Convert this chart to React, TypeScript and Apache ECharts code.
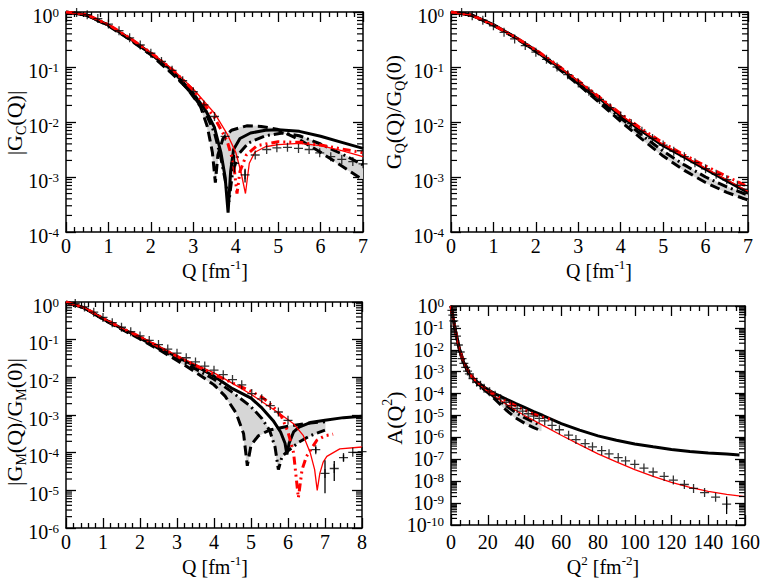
import React, { useEffect, useRef } from "react";
import * as echarts from "echarts";

const FONT = "Liberation Serif, Times New Roman, serif";

// ---- Panel 1: |G_C(Q)|  (values are log10 exponents) ----
const gcSolid = [[0,0],[0.5,-0.06],[1,-0.24],[1.5,-0.48],[2,-0.755],[2.5,-1.06],[3,-1.48],[3.3,-1.8],[3.5,-2.1],[3.65,-2.55],[3.75,-3.0],[3.82,-3.65],[3.88,-2.9],[3.95,-2.5],[4.1,-2.3],[4.35,-2.2],[4.7,-2.15],[5,-2.14],[5.5,-2.17],[6,-2.26],[6.5,-2.37],[7,-2.48]];
const gcDashA = [[0,0],[0.5,-0.06],[1,-0.25],[1.5,-0.5],[2,-0.78],[2.5,-1.12],[2.85,-1.38],[3.17,-1.72],[3.33,-2.08],[3.45,-2.55],[3.52,-3.1],[3.58,-2.6],[3.7,-2.3],[3.9,-2.15],[4.26,-2.07],[4.6,-2.08],[4.97,-2.13],[5.5,-2.32],[6,-2.55],[6.5,-2.8],[7,-3.05]];
const gcDashDotB = [[0,0],[0.5,-0.06],[1,-0.24],[1.5,-0.49],[2,-0.76],[2.5,-1.08],[3,-1.52],[3.3,-1.85],[3.5,-2.2],[3.65,-2.65],[3.75,-3.05],[3.84,-3.45],[3.92,-2.95],[4.05,-2.6],[4.3,-2.38],[4.7,-2.25],[5.1,-2.2],[5.5,-2.25],[6,-2.4],[6.5,-2.58],[7,-2.78]];
const gcRedDD = [[0,0],[0.5,-0.05],[1,-0.23],[1.5,-0.47],[2,-0.74],[2.5,-1.04],[3,-1.42],[3.5,-1.92],[3.8,-2.35],[3.95,-2.75],[4.03,-3.3],[4.1,-2.9],[4.25,-2.6],[4.5,-2.43],[5,-2.36],[5.5,-2.37],[6,-2.42],[6.5,-2.49],[7,-2.56]];
const gcRedSolid = [[0,0],[0.5,-0.05],[1,-0.23],[1.5,-0.47],[2,-0.74],[2.5,-1.03],[3,-1.4],[3.5,-1.84],[3.8,-2.22],[4.0,-2.55],[4.12,-2.9],[4.23,-3.3],[4.32,-2.75],[4.45,-2.55],[4.7,-2.45],[5,-2.41],[5.5,-2.39],[6,-2.43],[6.5,-2.52],[7,-2.63]];
const gcData = [[0.25,-0.01],[0.5,-0.05],[0.75,-0.12],[1,-0.22],[1.25,-0.34],[1.5,-0.47],[1.75,-0.6],[2,-0.75],[2.25,-0.9],[2.5,-1.06],[2.75,-1.25],[3,-1.45],[3.25,-1.69],[3.5,-1.9],[3.75,-2.26],[3.97,-2.75],[4.22,-2.96],[4.46,-2.6],[4.73,-2.5],[4.97,-2.47],[5.22,-2.46],[5.48,-2.48],[5.73,-2.5],[5.98,-2.56],[6.24,-2.63],[6.5,-2.68],[6.76,-2.72],[7.0,-2.76]];
const gcErr = [[3.97,-2.92,-2.6],[4.22,-3.1,-2.85]];

// ---- Panel 2: G_Q(Q)/G_Q(0) ----
const gqSolid = [[0,0],[0.5,-0.06],[1,-0.23],[1.5,-0.45],[2,-0.7],[2.5,-0.98],[3,-1.27],[3.5,-1.57],[4,-1.89],[4.5,-2.17],[5,-2.43],[5.5,-2.64],[6,-2.86],[6.5,-3.07],[7,-3.28]];
const gqRedSolid = [[0,0],[0.5,-0.06],[1,-0.23],[1.5,-0.45],[2,-0.69],[2.5,-0.97],[3,-1.26],[3.5,-1.56],[4,-1.87],[4.5,-2.15],[5,-2.41],[5.5,-2.62],[6,-2.84],[6.5,-3.05],[7,-3.26]];
const gqRedDD = [[0,0],[0.5,-0.06],[1,-0.24],[1.5,-0.45],[2,-0.69],[2.5,-0.96],[3,-1.25],[3.5,-1.55],[4,-1.85],[4.5,-2.13],[5,-2.38],[5.5,-2.6],[6,-2.8],[6.5,-2.99],[7,-3.18]];
const gqDashDotB = [[0,0],[0.5,-0.06],[1,-0.24],[1.5,-0.46],[2,-0.71],[2.5,-0.99],[3,-1.3],[3.5,-1.61],[4,-1.93],[4.5,-2.24],[5,-2.53],[5.5,-2.78],[6,-3.0],[6.5,-3.18],[7,-3.33]];
const gqDashA = [[0,0],[0.5,-0.06],[1,-0.24],[1.5,-0.46],[2,-0.72],[2.5,-1.01],[3,-1.32],[3.5,-1.65],[4,-1.99],[4.5,-2.31],[5,-2.62],[5.5,-2.88],[6,-3.1],[6.5,-3.28],[7,-3.42]];
const gqData = [[0.25,-0.01],[0.5,-0.07],[0.75,-0.15],[1,-0.25],[1.25,-0.37],[1.5,-0.49],[1.75,-0.61],[2,-0.73],[2.25,-0.86],[2.5,-1.0],[2.75,-1.14],[3,-1.29],[3.25,-1.44],[3.5,-1.59],[3.75,-1.74],[4,-1.89],[4.25,-2.03],[4.5,-2.17],[4.75,-2.3],[5,-2.42],[5.25,-2.53],[5.5,-2.63],[5.75,-2.74],[6,-2.85],[6.25,-2.95],[6.5,-3.05],[6.75,-3.15]];

// ---- Panel 3: |G_M(Q)/G_M(0)| ----
const gmSolid = [[0,0],[0.5,-0.16],[1,-0.44],[1.5,-0.7],[2,-0.94],[2.5,-1.2],[3,-1.46],[3.5,-1.7],[4,-1.97],[4.5,-2.3],[5,-2.55],[5.3,-2.82],[5.6,-3.15],[5.8,-3.45],[5.92,-3.75],[5.97,-4.05],[6.03,-3.75],[6.15,-3.45],[6.3,-3.32],[6.6,-3.2],[7,-3.14],[7.5,-3.07],[8,-3.03]];
const gmDashA = [[0,0],[0.5,-0.16],[1,-0.46],[1.5,-0.72],[2,-0.98],[2.5,-1.26],[3,-1.55],[3.5,-1.86],[4,-2.2],[4.3,-2.5],[4.6,-2.95],[4.8,-3.5],[4.9,-4.35],[5.0,-3.8],[5.2,-3.55],[5.5,-3.4],[6.0,-3.3],[6.5,-3.22],[7.0,-3.18]];
const gmDashDotB = [[0,0],[0.5,-0.16],[1,-0.45],[1.5,-0.71],[2,-0.96],[2.5,-1.23],[3,-1.5],[3.5,-1.78],[4,-2.05],[4.5,-2.4],[5,-2.78],[5.3,-3.1],[5.5,-3.4],[5.65,-3.85],[5.74,-4.45],[5.84,-4.1],[6.0,-3.95],[6.3,-3.72],[6.6,-3.55],[7.0,-3.4]];
const gmRedDD = [[0,0],[0.5,-0.15],[1,-0.43],[1.5,-0.69],[2,-0.92],[2.5,-1.18],[3,-1.44],[3.5,-1.68],[4,-1.92],[4.5,-2.15],[5,-2.37],[5.33,-2.55],[5.6,-2.78],[5.83,-3.05],[6.0,-3.45],[6.15,-4.0],[6.28,-5.2],[6.38,-4.45],[6.5,-4.1],[6.78,-3.67],[7.0,-3.55],[7.22,-3.51]];
const gmRedSolid = [[0,0],[0.5,-0.15],[1,-0.43],[1.5,-0.69],[2,-0.92],[2.5,-1.17],[3,-1.42],[3.5,-1.66],[4,-1.88],[4.43,-2.12],[5,-2.45],[5.5,-2.78],[5.8,-2.98],[6.15,-3.23],[6.41,-3.54],[6.6,-4.0],[6.72,-4.45],[6.79,-5.0],[6.86,-4.55],[6.95,-4.25],[7.05,-4.1],[7.4,-3.9],[8,-3.85]];
const gmData = [[0.25,-0.04],[0.5,-0.13],[0.75,-0.27],[1,-0.41],[1.25,-0.55],[1.5,-0.67],[1.75,-0.79],[2,-0.9],[2.25,-1.02],[2.5,-1.13],[2.75,-1.25],[3,-1.36],[3.25,-1.48],[3.5,-1.59],[3.75,-1.7],[4,-1.81],[4.25,-1.93],[4.5,-2.06],[4.75,-2.2],[5.02,-2.43],[5.29,-2.57],[5.52,-2.75],[5.74,-2.92],[6.0,-3.14],[6.75,-3.92],[7.0,-4.55],[7.25,-4.42],[7.5,-4.13],[7.75,-3.99],[8.0,-3.97]];
const gmErr = [[6.75,-4.0,-3.85],[7.0,-5.08,-4.2],[7.25,-4.75,-4.22],[7.5,-4.22,-4.05]];

// ---- Panel 4: A(Q^2) ----
const aSolid = [[0,0],[1,-0.45],[2,-0.95],[3,-1.4],[4,-1.8],[5,-2.1],[6,-2.4],[8,-2.8],[10,-3.1],[12,-3.3],[15,-3.52],[18,-3.7],[20,-3.82],[25,-4.05],[30,-4.25],[35,-4.45],[40,-4.63],[45,-4.82],[50,-5.0],[60,-5.37],[70,-5.67],[80,-5.93],[90,-6.13],[100,-6.3],[110,-6.43],[120,-6.55],[130,-6.64],[140,-6.71],[150,-6.76],[157,-6.8]];
const aRedSolid = [[0,0],[1,-0.45],[2,-0.95],[3,-1.4],[4,-1.78],[5,-2.08],[6,-2.38],[8,-2.78],[10,-3.08],[12,-3.3],[15,-3.55],[18,-3.77],[20,-3.9],[25,-4.2],[30,-4.48],[35,-4.75],[40,-5.0],[45,-5.22],[50,-5.45],[60,-5.9],[70,-6.33],[80,-6.75],[90,-7.12],[100,-7.47],[110,-7.78],[120,-8.05],[130,-8.28],[140,-8.46],[150,-8.6],[160,-8.7]];
const aRedDD = [[0,0],[1,-0.44],[2,-0.94],[3,-1.38],[4,-1.77],[5,-2.07],[6,-2.36],[8,-2.76],[10,-3.06],[12,-3.28],[15,-3.52],[18,-3.72],[20,-3.84],[25,-4.1],[30,-4.34],[35,-4.55],[40,-4.75],[45,-4.94],[50,-5.08],[56,-5.22]];
const aDashDotB = [[0,0],[2,-0.95],[5,-2.1],[10,-3.12],[15,-3.58],[20,-3.9],[25,-4.25],[30,-4.55],[35,-4.85],[40,-5.1],[45,-5.3],[49,-5.45]];
const aDashA = [[0,0],[2,-0.95],[5,-2.1],[10,-3.12],[15,-3.6],[20,-3.95],[25,-4.35],[30,-4.75],[35,-5.1],[40,-5.35],[45,-5.55],[49,-5.7]];
const aData = [[0.5,-0.2],[1,-0.42],[1.5,-0.68],[2,-0.92],[3,-1.38],[4,-1.78],[5,-2.1],[6,-2.4],[7,-2.62],[8,-2.8],[9,-2.97],[10,-3.1],[12,-3.32],[14,-3.48],[16,-3.62],[18,-3.75],[21,-3.92],[24,-4.08],[27,-4.24],[30,-4.4],[33,-4.55],[36,-4.68],[39,-4.8],[42,-4.92],[45,-5.03],[48,-5.13],[51,-5.25],[55,-5.45],[59,-5.65],[64,-5.9],[68,-6.1],[73,-6.28],[77,-6.43],[82,-6.6],[86,-6.75],[91,-6.92],[95,-7.07],[100,-7.23],[105,-7.4],[110,-7.58],[116,-7.78],[121,-7.95],[127,-8.15],[132,-8.33],[138,-8.52],[144,-8.73],[150,-9.05]];
const aErr = [[150,-9.5,-8.7]];

// ---- axis tick settings ----
const xRanges = [[0,7,1,5],[0,7,1,5],[0,8,1,5],[0,160,20,4]];
const yDecades = [[-4,0],[-4,0],[-6,0],[-10,0]];
const minorMultipliers = [2,3,4,5,6,7,8,9];

const GRIDS = [
  { left: 66, top: 12, width: 297, height: 220 },
  { left: 451, top: 12, width: 297, height: 220 },
  { left: 66, top: 302, width: 296, height: 226 },
  { left: 451, top: 306, width: 296, height: 219 },
];
const X_LABEL_MARGIN = [4, 4, 4, 7];
const Y_LABEL_PAD = [7, 7, 7, 0];

const PANELS = [
  { solid: gcSolid, dashA: gcDashA, dashDotB: gcDashDotB, redDD: gcRedDD, redSolid: gcRedSolid, data: gcData, err: gcErr },
  { solid: gqSolid, dashA: gqDashA, dashDotB: gqDashDotB, redDD: gqRedDD, redSolid: gqRedSolid, data: gqData, err: [] as number[][] },
  { solid: gmSolid, dashA: gmDashA, dashDotB: gmDashDotB, redDD: gmRedDD, redSolid: gmRedSolid, data: gmData, err: gmErr },
  { solid: aSolid, dashA: aDashA, dashDotB: aDashDotB, redDD: aRedDD, redSolid: aRedSolid, data: aData, err: aErr },
];

const pw = (e: number) => Math.pow(10, e);
const toPts = (arr: number[][]) => arr.map(([x, e]) => [x, pw(e)]);

const CROSS = "path://M3,0h1v3h3v1h-3v3h-1v-3h-3v-1h3z";

const supRich = {
  b: { fontSize: 20, fontFamily: FONT, color: "#000", lineHeight: 20, verticalAlign: "bottom" },
  s: { fontSize: 13, fontFamily: FONT, color: "#000", lineHeight: 10, verticalAlign: "top" },
};

function textRich(size: number) {
  return {
    sub: { fontSize: size, fontFamily: FONT, fill: "#000", color: "#000", lineHeight: size, verticalAlign: "bottom" },
    sup: { fontSize: size, fontFamily: FONT, fill: "#000", color: "#000", lineHeight: size, verticalAlign: "top" },
  };
}

function nameText(text: string, x: number, y: number, rotate: boolean, size: number, sub: number) {
  return {
    type: "text",
    x,
    y,
    rotation: rotate ? Math.PI / 2 : 0,
    style: {
      text,
      rich: textRich(sub),
      fontFamily: FONT,
      fontSize: size,
      lineHeight: size + 6,
      fill: "#000",
      align: "center",
      verticalAlign: "middle",
    },
  };
}

function buildOption() {
  const xAxis: any[] = [];
  const yAxis: any[] = [];
  const series: any[] = [];
  const lineCol = { color: "#000", width: 1.5 };
  const tickCol = { color: "#000", width: 1.3 };

  PANELS.forEach((p, i) => {
    const [xmin, xmax, xint, xsplit] = xRanges[i];
    const [lo, hi] = yDecades[i];
    const baseX = {
      type: "value",
      gridIndex: i,
      min: xmin,
      max: xmax,
      interval: xint,
      axisLine: { show: true, onZero: false, lineStyle: lineCol },
      axisTick: { show: true, inside: true, length: 10, lineStyle: tickCol },
      minorTick: { show: true, splitNumber: xsplit, length: 5, lineStyle: tickCol },
      splitLine: { show: false },
      minorSplitLine: { show: false },
    };
    xAxis.push({
      ...baseX,
      position: "bottom",
      axisLabel: {
        show: true,
        color: "#000",
        fontFamily: FONT,
        fontSize: 20,
        margin: X_LABEL_MARGIN[i],
        showMinLabel: true,
        showMaxLabel: true,
        hideOverlap: false,
      },
    });
    xAxis.push({ ...baseX, position: "top", axisLabel: { show: false } });

    const baseY = {
      type: "log",
      logBase: 10,
      gridIndex: i,
      min: pw(lo),
      max: pw(hi),
      interval: 1,
      axisLine: { show: true, onZero: false, lineStyle: lineCol },
      axisTick: { show: true, inside: true, length: 10, lineStyle: tickCol },
      minorTick: { show: false },
      splitLine: { show: false },
      minorSplitLine: { show: false },
    };
    yAxis.push({
      ...baseY,
      position: "left",
      axisLabel: {
        show: true,
        margin: 7,
        padding: [Y_LABEL_PAD[i], 0, 0, 0],
        fontSize: 20,
        fontFamily: FONT,
        color: "#000",
        showMinLabel: true,
        showMaxLabel: true,
        hideOverlap: false,
        formatter: (v: number) => "{b|10}{s|" + Math.round(Math.log10(v)) + "}",
        rich: supRich,
      },
    });
    yAxis.push({ ...baseY, position: "right", axisLabel: { show: false } });

    const xi = 2 * i;
    const yi = 2 * i;

    // minor log ticks (2..9 per decade) on left and right edges
    const minorVals: number[][] = [];
    for (let k = lo; k < hi; k++) {
      minorMultipliers.forEach((m) => minorVals.push([xmin, m * pw(k)]));
    }
    series.push({
      type: "custom",
      xAxisIndex: xi,
      yAxisIndex: yi,
      silent: true,
      z: 5,
      data: minorVals,
      renderItem: (params: any, api: any) => {
        const cs = params.coordSys;
        const y = api.coord([api.value(0), api.value(1)])[1];
        return {
          type: "group",
          children: [
            { type: "line", shape: { x1: cs.x, y1: y, x2: cs.x + 6, y2: y }, style: { stroke: "#000", lineWidth: 1.2 } },
            { type: "line", shape: { x1: cs.x + cs.width, y1: y, x2: cs.x + cs.width - 6, y2: y }, style: { stroke: "#000", lineWidth: 1.2 } },
          ],
        };
      },
    });

    // gray band between the two dashed curves
    const bandPts = [...toPts(p.dashA), ...toPts(p.dashDotB).reverse()];
    series.push({
      type: "custom",
      xAxisIndex: xi,
      yAxisIndex: yi,
      silent: true,
      clip: true,
      z: 1,
      data: bandPts,
      renderItem: (params: any, api: any) => {
        if (params.dataIndexInside !== 0) return { type: "group", children: [] };
        const pts: number[][] = [];
        for (let j = 0; j < params.dataInsideLength; j++) {
          pts.push(api.coord([api.value(0, j), api.value(1, j)]));
        }
        return { type: "polygon", shape: { points: pts }, style: { fill: "#d6d6d6", stroke: "#d6d6d6", lineWidth: 1 } };
      },
    });

    const mkLine = (data: number[][], color: string, width: number, type: any, z: number) => ({
      type: "line",
      xAxisIndex: xi,
      yAxisIndex: yi,
      data: toPts(data),
      showSymbol: false,
      symbol: "none",
      silent: true,
      clip: true,
      z,
      lineStyle: { color, width, type },
    });
    series.push(mkLine(p.dashA, "#000", 3, [10, 5], 2));
    series.push(mkLine(p.dashDotB, "#000", 3, [10, 4, 2, 4], 2));
    series.push(mkLine(p.solid, "#000", 3, "solid", 3));
    series.push(mkLine(p.redDD, "#ff0000", 3, [8, 4, 2, 4, 2, 4], 4));
    series.push(mkLine(p.redSolid, "#ff0000", 1.3, "solid", 4));

    if (p.err.length) {
      series.push({
        type: "custom",
        xAxisIndex: xi,
        yAxisIndex: yi,
        silent: true,
        z: 6,
        data: p.err.map(([x, a, b]) => [x, pw(a), pw(b)]),
        encode: { x: 0, y: [1, 2] },
        renderItem: (params: any, api: any) => {
          const a = api.coord([api.value(0), api.value(1)]);
          const b = api.coord([api.value(0), api.value(2)]);
          return { type: "line", shape: { x1: a[0], y1: a[1], x2: b[0], y2: b[1] }, style: { stroke: "#000", lineWidth: 1.3 } };
        },
      });
    }

    series.push({
      type: "scatter",
      xAxisIndex: xi,
      yAxisIndex: yi,
      data: toPts(p.data),
      symbol: CROSS,
      symbolSize: 9,
      silent: true,
      z: 6,
      itemStyle: { color: "#000" },
    });
  });

  const graphic = [
    nameText("|G{sub|C}(Q)|", 14, 123, true, 22, 14),
    nameText("G{sub|Q}(Q)/G{sub|Q}(0)", 393, 112, true, 22, 14),
    nameText("|G{sub|M}(Q)/G{sub|M}(0)|", 14, 422, true, 22, 14),
    nameText("A(Q{sup|2})", 394, 418, true, 22, 14),
    nameText("Q [fm{sup|-1}]", 215, 271, false, 20, 13),
    nameText("Q [fm{sup|-1}]", 599, 271, false, 20, 13),
    nameText("Q [fm{sup|-1}]", 215, 567, false, 20, 13),
    nameText("Q{sup|2} [fm{sup|-2}]", 603, 567, false, 20, 13),
  ];

  return {
    animation: false,
    backgroundColor: "#fff",
    grid: GRIDS.map((g) => ({ ...g, containLabel: false })),
    xAxis,
    yAxis,
    series,
    graphic,
  };
}

export default function App() {
  const ref = useRef<HTMLDivElement>(null);
  useEffect(() => {
    if (!ref.current) return;
    const chart = echarts.init(ref.current, undefined, { renderer: "svg" });
    chart.setOption(buildOption() as any);
    return () => chart.dispose();
  }, []);
  return (
    <div
      ref={ref}
      style={{ position: "absolute", left: 0, top: 0, width: 763, height: 582, background: "#fff" }}
    />
  );
}
